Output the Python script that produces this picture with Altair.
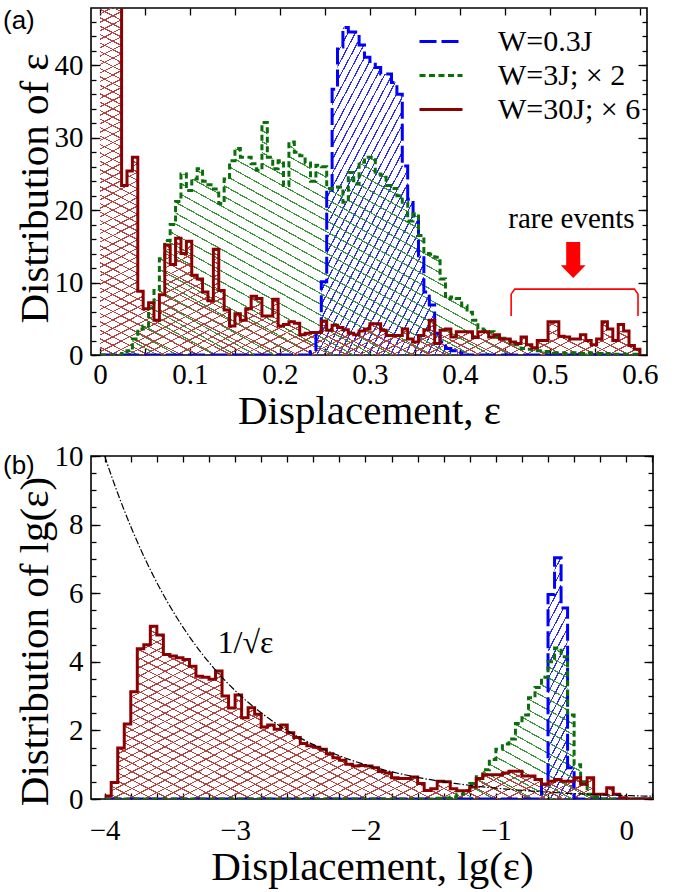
import altair as alt
import numpy as np
import pandas as pd

SERIF = "Liberation Serif"
SANS = "Liberation Sans"

# ---------------- data ----------------
series_names = ["W=0.3J", "W=3J; × 2", "W=30J; × 6"]
line_colors = ["#0000ff", "#0b6e0b", "#8b0000"]
hatch_colors = ["#2a2aff", "#3c963c", "#b34444"]
line_dashes = [[17, 5], [6, 3.5], [1, 0]]

# panel (a): histograms of displacement, bins of 0.006 starting at 0
a_bin_start = 0.0
a_bin_width = 0.006
a_blue = [0, 0, 0, 0, 0, 0, 0, 0, 0, 0,
          0, 0, 0, 0, 0, 0, 0, 0, 0, 0,
          0, 0, 0, 0, 0, 0, 0, 0, 0, 0,
          0, 0, 0, 0, 0, 0, 0, 0, 0, 0.5,
          3.2, 10.1, 22.7, 36.7, 42.5, 45.2, 44.6, 44.6, 42.8, 41.1,
          40.5, 39.7, 38.8, 38.8, 37.6, 36.0, 26.1, 21.5, 19.2, 13.7,
          8.7, 6.9, 3.0, 1.8, 0.9, 0.6, 0.3, 0, 0, 0,
          0, 0, 0, 0, 0, 0, 0, 0, 0, 0,
          0, 0, 0, 0, 0, 0, 0, 0, 0, 0,
          0, 0, 0, 0, 0, 0, 0, 0, 0, 0]
a_green = [0, 0, 0, 0, 0.2, 0.6, 2.2, 3.6, 4.0, 6.5,
           8.9, 13.3, 15.8, 18.0, 21.2, 25.0, 22.7, 24.3, 25.7, 24.0,
           23.5, 22.9, 20.9, 24.3, 26.8, 28.5, 27.3, 27.3, 26.4, 25.5,
           32.1, 27.3, 25.7, 26.8, 23.4, 29.4, 28.0, 27.5, 26.5, 24.0,
           26.2, 26.0, 23.0, 23.0, 23.2, 21.1, 25.2, 23.6, 26.6, 27.3,
           27.3, 25.0, 24.8, 23.4, 23.0, 22.0, 21.1, 18.5, 19.5, 16.5,
           14.0, 13.9, 13.5, 10.5, 7.8, 8.0, 7.8, 6.8, 5.9, 4.8,
           3.6, 3.4, 3.2, 2.5, 2.3, 2.0, 1.6, 1.4, 0.9, 0.8,
           0.7, 0.6, 0.5, 0.4, 0.3, 0.3, 0.2, 0.3, 0.2, 0.2,
           0.3, 0.2, 0.2, 0.1, 0.2, 0.1, 0.1, 0.1, 0.1, 0.1]
a_red = [60, 60, 60, 60, 23.4, 25.4, 27.3, 8.8, 6.4, 7.2,
         4.8, 8.3, 15.2, 12.5, 16.1, 14.0, 15.7, 11.0, 10.5, 8.7,
         7.5, 14.6, 8.9, 6.2, 4.0, 5.7, 4.8, 6.4, 8.1, 7.8,
         5.4, 5.4, 7.7, 4.0, 4.2, 4.6, 4.4, 2.8, 3.0, 3.1,
         3.1, 4.7, 3.4, 4.1, 3.8, 3.5, 3.0, 2.8, 3.3, 3.6,
         4.3, 4.3, 3.4, 2.7, 2.7, 2.7, 3.6, 2.2, 1.8, 2.7,
         3.5, 4.8, 1.6, 3.4, 3.6, 2.5, 3.2, 3.2, 3.2, 2.4,
         3.2, 3.2, 2.5, 2.8, 2.2, 2.2, 1.8, 1.6, 2.5, 1.4,
         1.0, 2.0, 2.0, 4.6, 4.6, 2.6, 2.5, 2.2, 2.2, 2.8,
         2.0, 1.4, 2.2, 4.6, 3.6, 2.0, 4.2, 3.3, 1.3, 0.8]

# panel (b): histograms of lg(displacement), bins of 0.05 starting at -4
b_bin_start = -4.0
b_bin_width = 0.05
b_blue = [0, 0, 0, 0, 0, 0, 0, 0, 0, 0,
          0, 0, 0, 0, 0, 0, 0, 0, 0, 0,
          0, 0, 0, 0, 0, 0, 0, 0, 0, 0,
          0, 0, 0, 0, 0, 0, 0, 0, 0, 0,
          0, 0, 0, 0, 0, 0, 0, 0, 0, 0,
          0, 0, 0, 0, 0, 0, 0, 0, 0, 0,
          0, 0, 0, 0, 0, 0, 0, 0.43, 5.96, 7.03,
          5.57, 0.91, 0, 0, 0, 0, 0, 0, 0, 0,
          0, 0, 0, 0]
b_green = [0, 0, 0, 0, 0, 0, 0, 0, 0, 0,
           0, 0, 0, 0, 0, 0, 0, 0, 0, 0,
           0, 0, 0, 0, 0, 0, 0, 0, 0, 0,
           0, 0, 0, 0, 0, 0, 0, 0, 0, 0,
           0, 0, 0, 0, 0, 0, 0, 0, 0, 0,
           0, 0.02, 0.03, 0.06, 0.14, 0.25, 0.45, 0.65, 0.85, 1.15,
           1.45, 1.60, 1.75, 2.20, 2.45, 2.95, 3.25, 3.55, 4.00, 4.40,
           4.15, 2.45, 1.00, 0.50, 0.14, 0.05, 0, 0, 0, 0,
           0, 0, 0, 0]
b_red = [0.09, 0.48, 1.49, 2.19, 3.13, 4.38, 4.50, 5.04, 4.78, 4.21,
         4.17, 4.12, 4.07, 3.87, 3.58, 3.55, 3.49, 3.73, 3.00, 2.65,
         3.03, 2.37, 2.66, 2.47, 2.10, 2.16, 2.03, 2.16, 1.93, 1.79,
         1.62, 1.55, 1.51, 1.45, 1.32, 1.20, 1.13, 1.01, 0.96, 0.98,
         0.96, 0.91, 0.80, 0.76, 0.62, 0.60, 0.60, 0.64, 0.45, 0.25,
         0.30, 0.52, 0.50, 0.30, 0.24, 0.24, 0.35, 0.60, 0.71, 0.71,
         0.71, 0.76, 0.81, 0.81, 0.67, 0.67, 0.57, 0.43, 0.52, 0.57,
         0.52, 0.52, 0.62, 0.43, 0.62, 0.14, 0.14, 0.33, 0.14, 0.04,
         0, 0, 0, 0]

# reference curve 1/sqrt(eps) drawn in lg coordinates
curve_lg = [round(-4.0 + 0.02 * i, 2) for i in range(211)]
curve_val = [0.1 * 10 ** (-v / 2.0) for v in curve_lg]

# annotations of panel (a)
rare_text = ["rare events"]
rare_text_x = [0.524]
rare_text_y = [17.6]
bracket_x = [0.457, 0.457, 0.461, 0.594, 0.598, 0.598]
bracket_y = [5.4, 8.4, 9.1, 9.1, 8.4, 5.4]
arrow_x = [0.526]
arrow_y = [13.1]
curve_label = ["1/√ε"]
curve_label_x = [-2.92]
curve_label_y = [4.25]

# ---------------- layout ----------------
WA, HA = 556, 347
WB, HB = 562, 343
xa_dom = [-0.01, 0.608]
ya_dom = [0, 47.9]
xb_dom = [-4.105, 0.205]
yb_dom = [0, 10]
LAB_FS = 29
XT_FS = 41
YT_FS = 41


def hist_df(start, width, vals, name):
    xs = [start + width * i for i in range(len(vals))] + [start + width * len(vals)]
    ys = list(vals) + [0.0]
    return pd.DataFrame({"x": xs, "y": ys, "s": name})


CLEAR = "rgba(255,255,255,0)"


def hatch(color, w_px, h_px, theta_deg, spacing, lw):
    th = np.radians(theta_deg)
    a = np.sin(th) * w_px
    b = np.cos(th) * h_px
    x1 = 0.0 if a >= 0 else 1.0
    y1 = 0.0 if b >= 0 else 1.0
    P = abs(a) + abs(b)
    k = P / (a * a + b * b)
    x2 = x1 + k * a
    y2 = y1 + k * b
    n = max(1, int(round(P / spacing)))
    f = lw / spacing
    stops = []
    for i in range(n):
        o0 = i / n
        o1 = (i + f) / n
        stops += [{"offset": o0, "color": CLEAR}, {"offset": o0, "color": color},
                  {"offset": o1, "color": color}, {"offset": o1, "color": CLEAR}]
    stops.append({"offset": 1.0, "color": CLEAR})
    return {"gradient": "linear", "x1": float(x1), "y1": float(y1),
            "x2": float(x2), "y2": float(y2), "stops": stops}


def tick_axis(orient, values, size, offset):
    return alt.Axis(orient=orient, values=values, labels=False, ticks=True,
                    tickSize=size, tickWidth=1.3, tickColor="black",
                    domain=False, grid=False, title=None, offset=offset)


def label_axis(orient, values, title, lab_pad, title_pad, fmt, title_fs, **kw):
    return alt.Axis(orient=orient, values=values, format=fmt, ticks=False,
                    tickSize=0, domain=False, grid=False, labelFont=SERIF,
                    labelFontSize=LAB_FS, labelColor="black", labelPadding=lab_pad,
                    title=title, titleFont=SERIF, titleFontSize=title_fs,
                    titleFontWeight="normal", titleColor="black",
                    titlePadding=title_pad, **kw)


hatch_specs = [  # (angle list, spacing, line width)
    ([62], 6.5, 1.2),
    ([-29], 9.5, 1.2),
    ([27, -27], 7.5, 1.1),
]


def build_panel(vals_list, start, width, xdom, ydom, W, H, axes, extra_layers, legend):
    xs = alt.Scale(domain=xdom, nice=False, zero=False)
    ys = alt.Scale(domain=ydom, nice=False, zero=False)
    sx = W / (xdom[1] - xdom[0])
    sy = H / (ydom[1] - ydom[0])
    layers = []
    dfs = []
    for vals, name, hc, (angles, sp, lw) in zip(vals_list, series_names, hatch_colors, hatch_specs):
        df = hist_df(start, width, vals, name)
        dfs.append(df)
        w_px = (df["x"].max() - df["x"].min()) * sx
        h_px = max(vals) * sy
        for ang in angles:
            layers.append(
                alt.Chart(df).mark_area(interpolate="step-after", clip=True,
                                        fill=hatch(hc, w_px, h_px, ang, sp, lw),
                                        strokeWidth=0)
                .encode(x=alt.X("x:Q", scale=xs, axis=None),
                        y=alt.Y("y:Q", scale=ys, axis=None, stack=None))
            )
    if legend is not None:
        alldf = pd.concat(dfs, ignore_index=True)
        layers.append(
            alt.Chart(alldf).mark_line(interpolate="step-after", clip=True, strokeWidth=3)
            .encode(x=alt.X("x:Q", scale=xs, axis=None),
                    y=alt.Y("y:Q", scale=ys, axis=None, stack=None),
                    color=alt.Color("s:N", scale=alt.Scale(domain=series_names, range=line_colors), legend=legend),
                    strokeDash=alt.StrokeDash("s:N", scale=alt.Scale(domain=series_names, range=line_dashes), legend=legend))
        )
    else:
        for df, c, d in zip(dfs, line_colors, line_dashes):
            layers.append(
                alt.Chart(df).mark_line(interpolate="step-after", clip=True, strokeWidth=3,
                                        color=c, strokeDash=d)
                .encode(x=alt.X("x:Q", scale=xs, axis=None),
                        y=alt.Y("y:Q", scale=ys, axis=None, stack=None))
            )
    for make in extra_layers:
        layers.append(make(xs, ys))
    # invisible carriers for the axes (labels + inward ticks on all four sides)
    for ax_x, ax_y in axes:
        layers.append(
            alt.Chart(dfs[0]).mark_point(opacity=0, size=1, clip=True)
            .encode(x=alt.X("x:Q", scale=xs, axis=ax_x),
                    y=alt.Y("y:Q", scale=ys, axis=ax_y, stack=None))
        )
    return alt.layer(*layers).properties(width=W, height=H).resolve_axis(x="independent", y="independent")


# ---- panel (a) axes ----
xa_major = [0, 0.1, 0.2, 0.3, 0.4, 0.5, 0.6]
xa_ticks = [round(0.05 * i, 2) for i in range(13)]
ya_major = [0, 10, 20, 30, 40]
ya_minor = list(range(0, 48, 2))
axes_a = [
    (label_axis("bottom", xa_major, "Displacement, ε", 5, 2, ".1~f", XT_FS),
     label_axis("left", ya_major, "Distribution of ε", 8, -2, "d", YT_FS, titleY=180)),
    (tick_axis("top", xa_ticks, 7, -HA), tick_axis("right", ya_major, 9, -WA)),
    (tick_axis("bottom", xa_ticks, 7, -HA), tick_axis("left", ya_major, 9, -WA)),
    (None, tick_axis("right", ya_minor, 5, -WA)),
    (None, tick_axis("left", ya_minor, 5, -WA)),
]

xb_major = [-4, -3, -2, -1, 0]
xb_ticks = [round(-4 + 0.2 * i, 1) for i in range(22)]
yb_major = [0, 2, 4, 6, 8, 10]
yb_minor = [0.5 * i for i in range(21)]
axes_b = [
    (label_axis("bottom", xb_major, "Displacement, lg(ε)", 17, 2, "d", XT_FS),
     label_axis("left", yb_major, "Distribution of lg(ε)", 8, -2, "d", YT_FS, titleY=185)),
    (tick_axis("top", xb_ticks, 6, -HB), tick_axis("right", yb_major, 9, -WB)),
    (tick_axis("bottom", xb_ticks, 6, -HB), tick_axis("left", yb_major, 9, -WB)),
    (None, tick_axis("right", yb_minor, 5, -WB)),
    (None, tick_axis("left", yb_minor, 5, -WB)),
]

ARROW = "M-0.39,-1L0.39,-1L0.39,0.28L0.69,0.28L0,1L-0.69,0.28L-0.39,0.28Z"


def rare_text_layer(xs, ys):
    df = pd.DataFrame({"x": rare_text_x, "y": rare_text_y, "t": rare_text})
    return alt.Chart(df).mark_text(font=SERIF, fontSize=29, color="black", align="center",
                                   baseline="alphabetic").encode(
        x=alt.X("x:Q", scale=xs, axis=None), y=alt.Y("y:Q", scale=ys, axis=None), text="t:N")


def bracket_layer(xs, ys):
    df = pd.DataFrame({"x": bracket_x, "y": bracket_y, "o": list(range(len(bracket_x)))})
    return alt.Chart(df).mark_line(color="#ff0000", strokeWidth=1.6).encode(
        x=alt.X("x:Q", scale=xs, axis=None), y=alt.Y("y:Q", scale=ys, axis=None), order="o:Q")


def arrow_layer(xs, ys):
    df = pd.DataFrame({"x": arrow_x, "y": arrow_y})
    return alt.Chart(df).mark_point(shape=ARROW, size=1296, filled=True, color="#ff0000",
                                    opacity=1).encode(
        x=alt.X("x:Q", scale=xs, axis=None), y=alt.Y("y:Q", scale=ys, axis=None))


def tag_layer(text, px, py):
    def make(xs, ys):
        df = pd.DataFrame({"t": [text]})
        return alt.Chart(df).mark_text(font=SANS, fontSize=26, color="black", align="left",
                                       baseline="middle").encode(
            x=alt.value(px), y=alt.value(py), text="t:N")
    return make


def curve_layer(xs, ys):
    df = pd.DataFrame({"x": curve_lg, "y": curve_val})
    return alt.Chart(df).mark_line(color="black", strokeWidth=1.2, strokeDash=[7, 2, 1.5, 2],
                                   clip=True).encode(
        x=alt.X("x:Q", scale=xs, axis=None), y=alt.Y("y:Q", scale=ys, axis=None))


def curve_label_layer(xs, ys):
    df = pd.DataFrame({"x": curve_label_x, "y": curve_label_y, "t": curve_label})
    return alt.Chart(df).mark_text(font=SERIF, fontSize=32, color="black", align="center",
                                   baseline="alphabetic").encode(
        x=alt.X("x:Q", scale=xs, axis=None), y=alt.Y("y:Q", scale=ys, axis=None), text="t:N")


legend_a = alt.Legend(title=None, orient="none", legendX=327, legendY=20,
                      symbolType="stroke", symbolSize=1849, symbolStrokeWidth=3,
                      labelFont=SERIF, labelFontSize=30, labelColor="black",
                      labelOffset=34, labelLimit=400, clipHeight=27, rowPadding=3)

panel_a = build_panel([a_blue, a_green, a_red], a_bin_start, a_bin_width, xa_dom, ya_dom,
                      WA, HA, axes_a,
                      [rare_text_layer, bracket_layer, arrow_layer, tag_layer("(a)", -88, 13)],
                      legend_a)
panel_b = build_panel([b_blue, b_green, b_red], b_bin_start, b_bin_width, xb_dom, yb_dom,
                      WB, HB, axes_b,
                      [curve_layer, curve_label_layer, tag_layer("(b)", -88, 10)],
                      None)

chart = (
    alt.vconcat(panel_a, panel_b, spacing=9)
    .resolve_scale(x="independent", y="independent", color="independent", strokeDash="independent")
    .properties(padding={"left": 2, "top": 6, "right": 5, "bottom": 5})
    .configure_view(stroke="black", strokeWidth=1.6)
)

chart.save("out.html", embed_options={"renderer": "svg", "actions": False})
